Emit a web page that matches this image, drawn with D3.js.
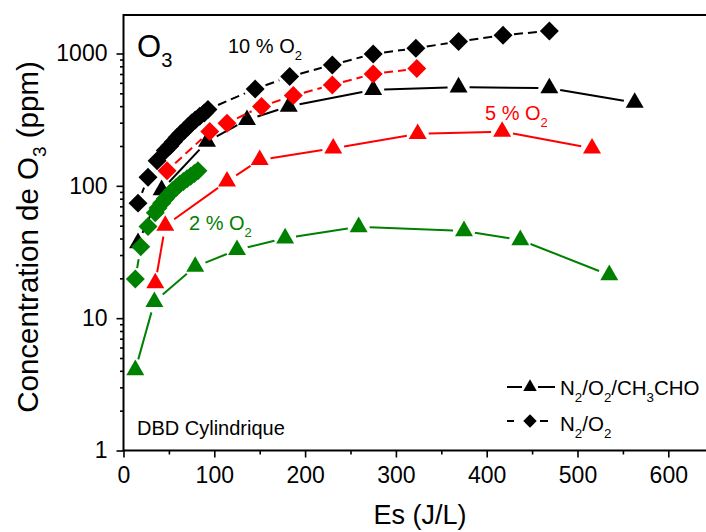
<!DOCTYPE html>
<html><head><meta charset="utf-8">
<script src="https://cdn.jsdelivr.net/npm/d3@7"></script>
<style>body{margin:0;background:#fff}svg{display:block;font-family:"Liberation Sans",Arial,sans-serif}</style>
</head><body><svg id="c" width="706" height="532"></svg>
<script>
// ---- data (Es in J/L, O3 in ppm) ----
const xTicks = [0, 100, 200, 300, 400, 500, 600];
const xMinor = [50, 150, 250, 350, 450, 550, 650];
const yTicks = [1, 10, 100, 1000];

const esTri10 = [16, 42, 92, 136, 182, 275, 369, 469, 563];
const o3Tri10 = [37, 93, 216, 315, 398, 531, 556, 547, 425];
const esDia10 = [16, 27, 37, 46, 51, 55, 59, 63, 67, 71, 75, 79, 84, 89, 93, 145, 183, 230, 275, 322, 369, 418, 469];
const o3Dia10 = [74, 116, 155, 185, 200, 215, 232, 248, 262, 280, 298, 315, 335, 355, 378, 540, 669, 820, 993, 1097, 1230, 1375, 1482];

const esTri5 = [35, 46, 114, 150, 231, 324, 417, 516];
const o3Tri5 = [18.4, 50, 108, 157, 192, 247, 257, 192];
const esDia5 = [48, 95, 114, 152, 187, 230, 275, 323];
const o3Dia5 = [130, 257, 297, 398, 481, 579, 701, 769];

const esTri2 = [13, 34, 79, 125, 178, 259, 375, 437, 535];
const o3Tri2 = [4.06, 13.3, 24.5, 32.8, 40.2, 48.9, 45.6, 39, 21.2];
const esDia2 = [13, 19, 27, 35, 38, 42, 46, 50, 54, 58, 62, 66, 70, 74, 78, 82];
const o3Dia2 = [19.8, 34.7, 49.2, 62.7, 68, 74, 80, 86, 92, 97, 103, 108, 113, 118, 124, 130];

const series = [
  {es: esTri10, o3: o3Tri10, color: "#000000", shape: "tri", dash: null},
  {es: esDia10, o3: o3Dia10, color: "#000000", shape: "dia", dash: "9,5"},
  {es: esTri5,  o3: o3Tri5,  color: "#ff0000", shape: "tri", dash: null},
  {es: esDia5,  o3: o3Dia5,  color: "#ff0000", shape: "dia", dash: "9,5"},
  {es: esTri2,  o3: o3Tri2,  color: "#008000", shape: "tri", dash: null},
  {es: esDia2,  o3: o3Dia2,  color: "#008000", shape: "dia", dash: "9,5"}
];

// ---- layout ----
const svg = d3.select("#c");
const pLeft = 123.5, pTop = 15, pBottom = 450.5, pRight = 720;
const x = d3.scaleLinear().domain([0, 600]).range([123.5, 668.3]);
const y = d3.scaleLog().domain([1, 1000]).range([450.5, 53.5]);

// axes
const gx = svg.append("g").attr("transform", `translate(0,${pBottom})`)
  .call(d3.axisBottom(x).tickValues(xTicks).tickSize(7).tickPadding(9).tickFormat(d3.format("d")));
const gxm = svg.append("g").attr("transform", `translate(0,${pBottom})`)
  .call(d3.axisBottom(x).tickValues(xMinor).tickSize(4).tickFormat(""));
const yMinor = [];
[1, 10, 100].forEach(d => { for (let k = 2; k <= 9; k++) yMinor.push(d * k); });
const gy = svg.append("g").attr("transform", `translate(${pLeft},0)`)
  .call(d3.axisLeft(y).tickValues(yTicks).tickSize(7).tickPadding(9).tickFormat(d3.format("d")));
const gym = svg.append("g").attr("transform", `translate(${pLeft},0)`)
  .call(d3.axisLeft(y).tickValues(yMinor).tickSize(3.5).tickFormat(""));
[gx, gxm, gy, gym].forEach(g => {
  g.select(".domain").remove();
  g.selectAll(".tick line").attr("stroke", "#000").attr("stroke-width", 1.6);
  g.selectAll("text").attr("font-size", 23).attr("fill", "#000")
    .attr("font-family", '"Liberation Sans",Arial,sans-serif');
});

// frame
svg.append("path")
  .attr("d", `M${pRight},${pTop}H${pLeft}V${pBottom}H${pRight}`)
  .attr("fill", "none").attr("stroke", "#000").attr("stroke-width", 2);

// ---- series ----
const gap = 11;
function segments(s) {
  const out = [];
  for (let i = 0; i < s.es.length - 1; i++) {
    const x1 = x(s.es[i]), y1 = y(s.o3[i]), x2 = x(s.es[i + 1]), y2 = y(s.o3[i + 1]);
    const L = Math.hypot(x2 - x1, y2 - y1);
    if (L <= 2 * gap) continue;
    const ux = (x2 - x1) / L, uy = (y2 - y1) / L;
    out.push([x1 + ux * gap, y1 + uy * gap, x2 - ux * gap, y2 - uy * gap]);
  }
  return out;
}
const triSym = d3.symbol().type(d3.symbolTriangle).size(140);
const diaSym = d3.symbol().type(d3.symbolSquare).size(180);

series.forEach(s => {
  const g = svg.append("g");
  g.selectAll("line").data(segments(s)).join("line")
    .attr("x1", d => d[0]).attr("y1", d => d[1]).attr("x2", d => d[2]).attr("y2", d => d[3])
    .attr("stroke", s.color).attr("stroke-width", 2)
    .attr("stroke-dasharray", s.dash);
  const pts = s.es.map((e, i) => [e, s.o3[i]]);
  g.selectAll("path.m").data(pts).join("path").attr("class", "m")
    .attr("d", s.shape === "tri" ? triSym() : diaSym())
    .attr("transform", d => `translate(${x(d[0])},${y(d[1])})` + (s.shape === "dia" ? " rotate(45)" : ""))
    .attr("fill", s.color);
});

// ---- text helpers ----
function subText(px, py, parts, size, color, anchor) {
  const t = svg.append("text").attr("x", px).attr("y", py)
    .attr("font-size", size).attr("fill", color).attr("text-anchor", anchor || "start");
  let shifted = false;
  parts.forEach(p => {
    const ts = t.append("tspan").text(p[0]);
    if (p[1] && !shifted) { ts.attr("font-size", size * 0.65).attr("dy", size * 0.33); shifted = true; }
    else if (!p[1] && shifted) { ts.attr("dy", -size * 0.33); shifted = false; }
    else if (p[1]) ts.attr("font-size", size * 0.65);
  });
  return t;
}

// annotations
subText(137, 57, [["O", false], ["3", true]], 31, "#000");
subText(228, 53, [["10 % O", false], ["2", true]], 20, "#000");
subText(485, 120, [["5 % O", false], ["2", true]], 20, "#ff0000");
subText(189, 230, [["2 % O", false], ["2", true]], 20, "#008000");
svg.append("text").attr("x", 137).attr("y", 435).attr("font-size", 20).attr("fill", "#000").text("DBD Cylindrique");

// axis titles
svg.append("text").attr("x", 420).attr("y", 524).attr("text-anchor", "middle")
  .attr("font-size", 27).attr("fill", "#000").text("Es (J/L)");
const yt = svg.append("text").attr("transform", "translate(38,237) rotate(-90)")
  .attr("text-anchor", "middle").attr("font-size", 29.5).attr("fill", "#000");
yt.append("tspan").text("Concentration de O");
yt.append("tspan").text("3").attr("font-size", 19).attr("dy", 8);
yt.append("tspan").text(" (ppm)").attr("dy", -8);

// ---- legend ----
const legSym = d3.symbol().type(d3.symbolTriangle).size(80);
const legDia = d3.symbol().type(d3.symbolSquare).size(90);
const lg = svg.append("g");
lg.append("line").attr("x1", 507).attr("x2", 522).attr("y1", 387).attr("y2", 387).attr("stroke", "#000").attr("stroke-width", 2);
lg.append("line").attr("x1", 538).attr("x2", 555).attr("y1", 387).attr("y2", 387).attr("stroke", "#000").attr("stroke-width", 2);
lg.append("path").attr("d", legSym()).attr("transform", "translate(530,387)").attr("fill", "#000");
lg.append("line").attr("x1", 507).attr("x2", 514).attr("y1", 421).attr("y2", 421).attr("stroke", "#000").attr("stroke-width", 2);
lg.append("line").attr("x1", 540).attr("x2", 548).attr("y1", 421).attr("y2", 421).attr("stroke", "#000").attr("stroke-width", 2);
lg.append("path").attr("d", legDia()).attr("transform", "translate(530,421) rotate(45)").attr("fill", "#000");
subText(560, 395, [["N", false], ["2", true], ["/O", false], ["2", true], ["/CH", false], ["3", true], ["CHO", false]], 20.5, "#000");
subText(560, 431, [["N", false], ["2", true], ["/O", false], ["2", true]], 20.5, "#000");
</script></body></html>
